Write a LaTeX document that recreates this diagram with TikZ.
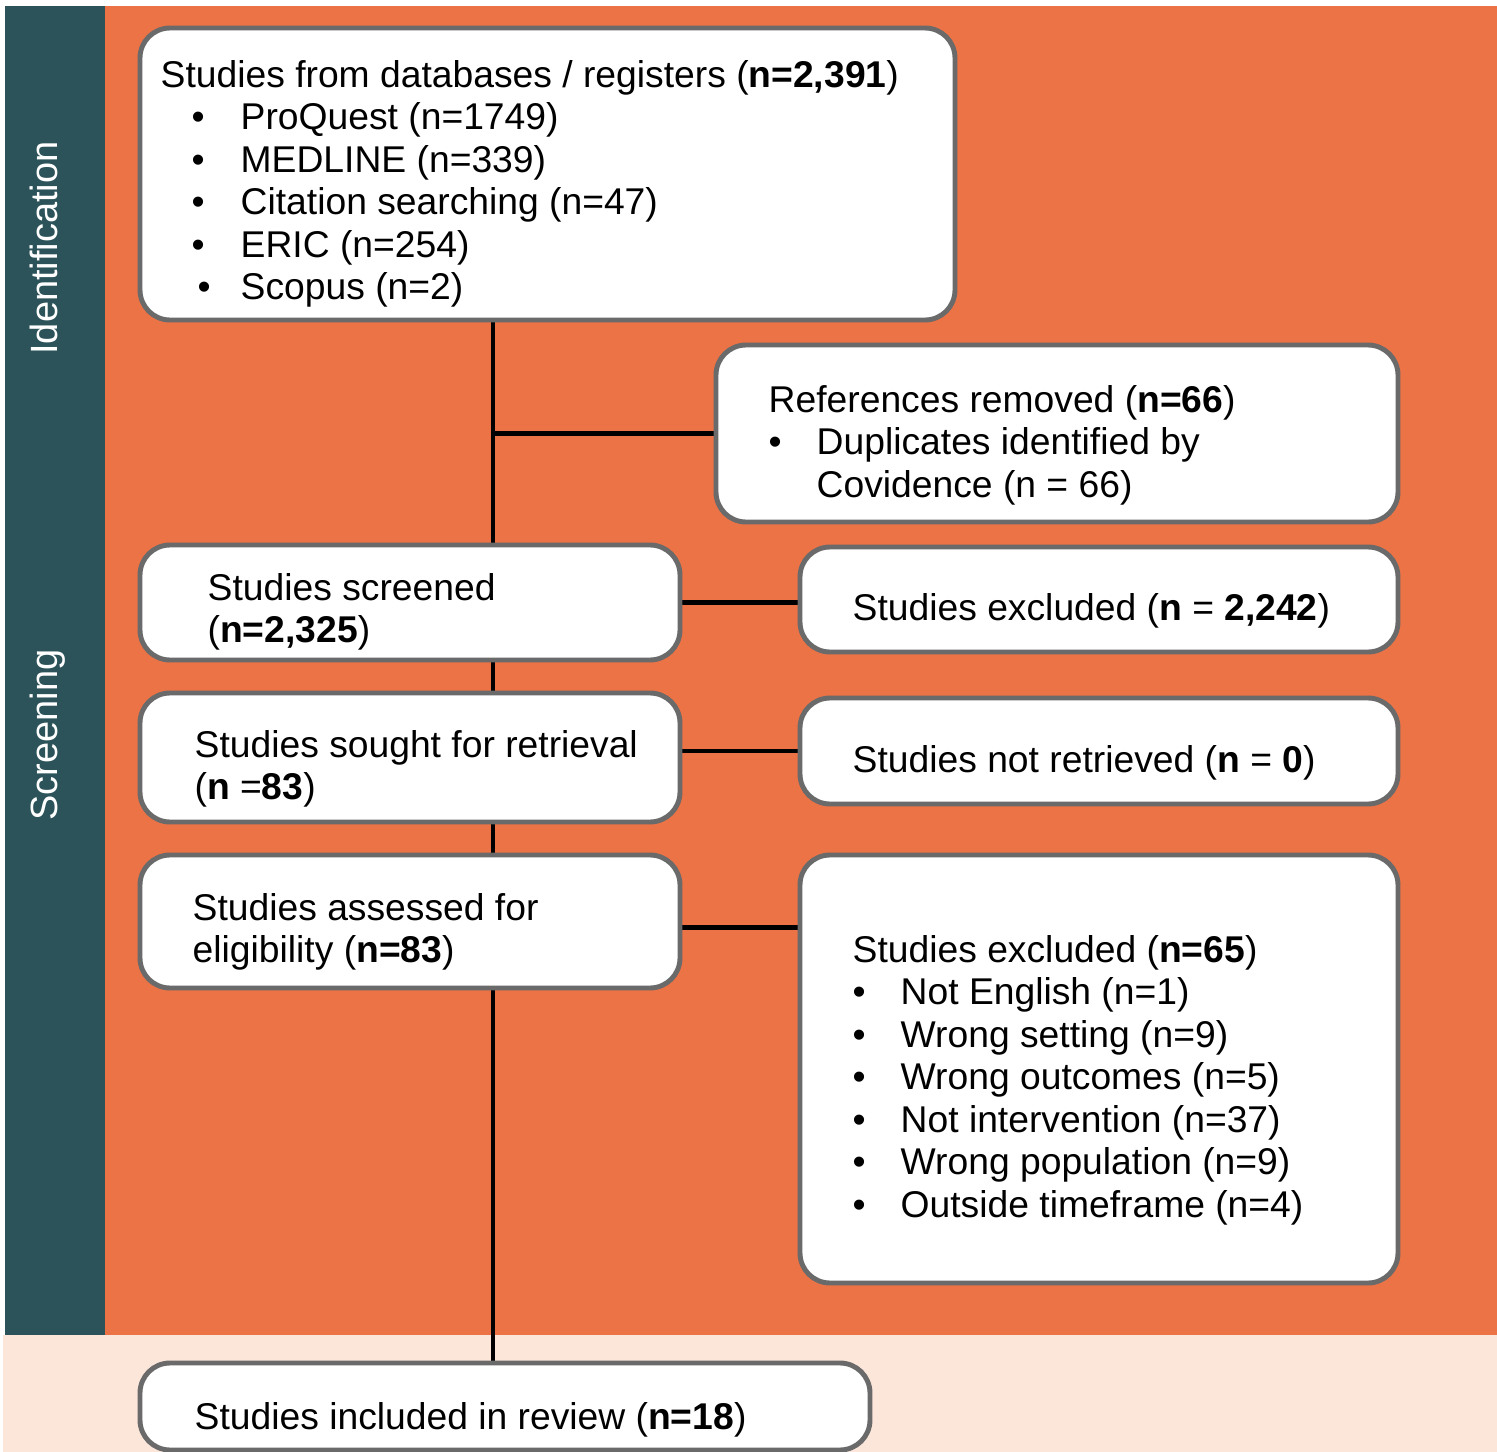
\documentclass[tikz,border=0pt]{standalone}
\usepackage{fontspec}
\setmainfont{Liberation Sans}
\usetikzlibrary{positioning}
\definecolor{sidebar}{HTML}{2C535A}
\definecolor{stageorange}{HTML}{EC7346}
\definecolor{stagepeach}{HTML}{FCE6DA}
\definecolor{boxgray}{HTML}{6A6A6A}
\pgfdeclarelayer{back}
\pgfdeclarelayer{conn}
\pgfsetlayers{back,conn,main}
\newcommand{\bul}[2]{\makebox[#2][l]{\hspace*{#1}\textbullet}}
\tikzset{
  box/.style={draw=boxgray, line width=1.4pt, fill=white, rounded corners=0.3cm, inner sep=0pt},
  txt/.style={anchor=base west, inner sep=0pt, align=left, font=\fontsize{10.6}{12.1}\selectfont},
  side/.style={anchor=base, inner sep=0pt, rotate=90, text=white, font=\fontsize{10.8}{12}\selectfont},
  link/.style={line width=1.3pt, black}
}

\begin{document}
\begin{tikzpicture}
  \useasboundingbox (0,0) rectangle (14.97,-14.52);
  % ---- bandas de fundo ----
  \begin{pgfonlayer}{back}
    \fill[stagepeach] (0.03,-13.35) rectangle (14.97,-14.52);
    \fill[sidebar] (0.05,-0.06) rectangle (1.05,-13.35);
    \fill[stageorange] (1.05,-0.06) rectangle (14.97,-13.35);
  \end{pgfonlayer}
  \node[side] (ident) at (0.58,-2.48) {Identification};
  \node[side] (screen) at (0.58,-7.35) {Screening};
  % ---- caixas ----
  \node[box, minimum width=8.15cm, minimum height=2.92cm] (top) at (5.475,-1.74) {};
  \node[box, minimum width=6.82cm, minimum height=1.77cm] (refs) at (10.57,-4.335) {};
  \node[box, minimum width=5.40cm, minimum height=1.15cm] (screened) at (4.10,-6.025) {};
  \node[box, minimum width=5.98cm, minimum height=1.05cm] (exclA) at (10.99,-5.995) {};
  \node[box, minimum width=5.40cm, minimum height=1.29cm] (sought) at (4.10,-7.575) {};
  \node[box, minimum width=5.98cm, minimum height=1.06cm] (notret) at (10.99,-7.51) {};
  \node[box, minimum width=5.40cm, minimum height=1.33cm] (assessed) at (4.10,-9.215) {};
  \node[box, minimum width=5.98cm, minimum height=4.28cm] (exclB) at (10.99,-10.69) {};
  \node[box, minimum width=7.30cm, minimum height=0.87cm] (incl) at (5.05,-14.065) {};
  % ---- textos (ancorados na linha de base da ultima linha) ----
  \node[txt] (top-t) at (1.60,-2.997) {Studies from databases / registers (\textbf{n=2,391})\\
    \bul{0.31cm}{0.80cm}ProQuest (n=1749)\\
    \bul{0.31cm}{0.80cm}MEDLINE (n=339)\\
    \bul{0.31cm}{0.80cm}Citation searching (n=47)\\
    \bul{0.31cm}{0.80cm}ERIC (n=254)\\
    \bul{0.37cm}{0.80cm}Scopus (n=2)};
  \node[txt] (refs-t) at (7.68,-4.972) {References removed (\textbf{n=66})\\
    \bul{0cm}{0.48cm}Duplicates identified by\\
    \hspace*{0.48cm}Covidence (n = 66)};
  \node[txt] (screened-t) at (2.07,-6.426) {Studies screened\\(\textbf{n=2,325})};
  \node[txt] (exclA-t) at (8.52,-6.20) {Studies excluded (\textbf{n} = \textbf{2,242})};
  \node[txt] (sought-t) at (1.94,-7.996) {Studies sought for retrieval\\(\textbf{n} =\textbf{83})};
  \node[txt] (notret-t) at (8.52,-7.72) {Studies not retrieved (\textbf{n} = \textbf{0})};
  \node[txt] (assessed-t) at (1.92,-9.626) {Studies assessed for\\eligibility (\textbf{n=83})};
  \node[txt] (exclB-t) at (8.52,-12.173) {Studies excluded (\textbf{n=65})\\
    \bul{0cm}{0.48cm}Not English (n=1)\\
    \bul{0cm}{0.48cm}Wrong setting (n=9)\\
    \bul{0cm}{0.48cm}Wrong outcomes (n=5)\\
    \bul{0cm}{0.48cm}Not intervention (n=37)\\
    \bul{0cm}{0.48cm}Wrong population (n=9)\\
    \bul{0cm}{0.48cm}Outside timeframe (n=4)};
  \node[txt] (incl-t) at (1.94,-14.29) {Studies included in review (\textbf{n=18})};
  % ---- ligacoes ----
  \coordinate (spine) at (4.93,0);
  \begin{pgfonlayer}{conn}
    \draw[link] (top.south -| spine) -- (incl.north -| spine);
    \draw[link] (refs.west -| spine) -- (refs.west);
    \draw[link] (screened.east) -- (screened.east -| exclA.west);
    \draw[link] (notret.west -| sought.east) -- (notret.west);
    \draw[link] ([yshift=-0.06cm]assessed.east) -- ([yshift=-0.06cm]assessed.east -| exclB.west);
  \end{pgfonlayer}
\end{tikzpicture}
\end{document}
